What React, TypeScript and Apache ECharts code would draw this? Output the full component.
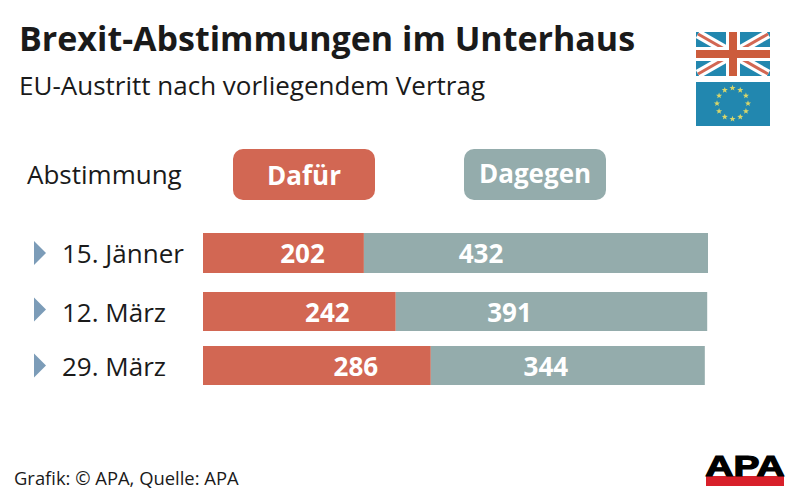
import React, { useEffect, useRef } from "react";
import * as echarts from "echarts";

const categories = ["15. Jänner", "12. März", "29. März"];
const dafuer = [202, 242, 286];
const dagegen = [432, 391, 344];
const seriesNames = ["Dafür", "Dagegen"];
const titleText = "Brexit-Abstimmungen im Unterhaus";
const subtitleText = "EU-Austritt nach vorliegendem Vertrag";
const columnText = "Abstimmung";
const sourceText = "Grafik: © APA, Quelle: APA";

const RED = "#D26753";
const TEAL = "#94ACAC";
const FONT = "'Open Sans', 'Noto Sans', sans-serif";
const rowTops = [233, 292, 346];
const rowHeights = [40, 39, 39];
const labelShifts = [0, -2, 0];
const dafuerOffsets = [19, 28, 39];
const dagegenOffsets = [-55, -42, -22];

function star(cx: number, cy: number, r: number) {
  const pts: number[][] = [];
  for (let i = 0; i < 10; i++) {
    const a = -Math.PI / 2 + (i * Math.PI) / 5;
    const rr = i % 2 ? r * 0.42 : r;
    pts.push([cx + rr * Math.cos(a), cy + rr * Math.sin(a)]);
  }
  return pts;
}

function flagGraphics() {
  const x0 = 696, y0 = 32, w = 74, h = 44;
  const x1 = x0 + w, y1 = y0 + h;
  const line = (a: number, b: number, c: number, d: number, color: string, width: number) => ({
    type: "line", shape: { x1: a, y1: b, x2: c, y2: d }, style: { stroke: color, lineWidth: width },
  });
  const uk: any[] = [
    { type: "rect", shape: { x: x0, y: y0, width: w, height: h }, style: { fill: "#2287AF" } },
    {
      type: "group",
      children: [
        line(x0 + 2, y0 + 2, x1 - 2, y1 - 2, "#FFFFFF", 9),
        line(x0 + 2, y1 - 2, x1 - 2, y0 + 2, "#FFFFFF", 9),
        line(x0 + 2, y0 + 2, x1 - 2, y1 - 2, RED, 3),
        line(x0 + 2, y1 - 2, x1 - 2, y0 + 2, RED, 3),
      ],
    },
    { type: "rect", shape: { x: x0, y: y0 + 15, width: w, height: 14 }, style: { fill: "#FFFFFF" } },
    { type: "rect", shape: { x: x0 + 30, y: y0, width: 14, height: h }, style: { fill: "#FFFFFF" } },
    { type: "rect", shape: { x: x0, y: y0 + 18, width: w, height: 8 }, style: { fill: "#CC5C3C" } },
    { type: "rect", shape: { x: x0 + 33, y: y0, width: 8, height: h }, style: { fill: "#CC5C3C" } },
  ];
  const eu: any[] = [
    { type: "rect", shape: { x: 696, y: 82, width: 74, height: 44 }, style: { fill: "#2287AF" } },
  ];
  for (let i = 0; i < 12; i++) {
    const a = (i * Math.PI) / 6;
    eu.push({
      type: "polygon",
      shape: { points: star(732.5 + 15.5 * Math.sin(a), 103.5 - 15.5 * Math.cos(a), 3.2) },
      style: { fill: "#D8D66A" },
    });
  }
  return [...uk, ...eu];
}

function App() {
  const ref = useRef<HTMLDivElement>(null);
  useEffect(() => {
    document.body.style.margin = "0";
    const chart = echarts.init(ref.current!, null, { renderer: "svg" });
    const grids = rowTops.map((top, i) => ({ left: 203, width: 505, top, height: rowHeights[i] }));
    const xAxes = rowTops.map((_, i) => ({
      type: "value", gridIndex: i, min: 0, max: dafuer[0] + dagegen[0], show: false,
    }));
    const yAxes = rowTops.map((_, i) => ({
      type: "category", gridIndex: i, data: [categories[i]],
      axisLine: { show: false }, axisTick: { show: false },
      axisLabel: {
        show: true, align: "left", margin: 141, color: "#1a1a1a", fontSize: 26, fontFamily: FONT,
        padding: [0, 0, -labelShifts[i] * 2, 0],
      },
    }));
    const barLabel = (offset: number) => ({
      show: true, position: "inside", offset: [offset, 0], color: "#FFFFFF",
      fontSize: 26, fontWeight: "bold", fontFamily: FONT,
    });
    const series: any[] = [];
    rowTops.forEach((_, i) => {
      series.push({
        type: "bar", name: seriesNames[0], stack: "s" + i, xAxisIndex: i, yAxisIndex: i,
        barWidth: "100%", data: [dafuer[i]], itemStyle: { color: RED }, label: barLabel(dafuerOffsets[i]),
      });
      series.push({
        type: "bar", name: seriesNames[1], stack: "s" + i, xAxisIndex: i, yAxisIndex: i,
        barWidth: "100%", data: [dagegen[i]], itemStyle: { color: TEAL }, label: barLabel(dagegenOffsets[i]),
      });
    });
    const triangles = rowTops.map((top, i) => {
      const c = top + rowHeights[i] / 2 + labelShifts[i];
      return {
        type: "polygon",
        shape: { points: [[34, c - 12], [46, c], [34, c + 12]] },
        style: { fill: "#7C9CB8" },
      };
    });
    const pillText = (text: string, x: number, y: number) => ({
      type: "text", x, y,
      style: { text, fill: "#FFFFFF", font: `bold 26px ${FONT}`, textAlign: "center", textVerticalAlign: "middle" },
    });
    chart.setOption({
      animation: false,
      backgroundColor: "#FFFFFF",
      title: [
        { text: titleText, left: 19, top: 21, padding: 0, textStyle: { fontFamily: FONT, fontSize: 34, fontWeight: "bold", color: "#1a1a1a" } },
        { text: subtitleText, left: 19, top: 72, padding: 0, textStyle: { fontFamily: FONT, fontSize: 26, fontWeight: "normal", color: "#1a1a1a" } },
        { text: columnText, left: 27, top: 161, padding: 0, textStyle: { fontFamily: FONT, fontSize: 26, fontWeight: "normal", color: "#1a1a1a" } },
        { text: sourceText, left: 14, top: 468, padding: 0, textStyle: { fontFamily: FONT, fontSize: 18.4, fontWeight: "normal", color: "#1a1a1a" } },
      ],
      grid: grids,
      xAxis: xAxes,
      yAxis: yAxes,
      series,
      graphic: [
        { type: "rect", shape: { x: 233, y: 149, width: 142, height: 51, r: 10 }, style: { fill: RED } },
        { type: "rect", shape: { x: 464, y: 149, width: 142, height: 51, r: 10 }, style: { fill: TEAL } },
        pillText(seriesNames[0], 304, 175),
        pillText(seriesNames[1], 535, 173),
        ...triangles,
        ...flagGraphics(),
        { type: "rect", shape: { x: 706, y: 476, width: 78, height: 10 }, style: { fill: "#D8202A" } },
        {
          type: "text", x: 745, y: 466, scaleX: 1.3,
          style: {
            text: "APA", fill: "#000000", stroke: "#000000", lineWidth: 1.2,
            font: "bold 30px 'Liberation Sans', sans-serif", textAlign: "center", textVerticalAlign: "middle",
          },
        },
      ],
    });
    return () => chart.dispose();
  }, []);
  return <div ref={ref} style={{ position: "fixed", left: 0, top: 0, width: 800, height: 500 }} />;
}

export default App;
